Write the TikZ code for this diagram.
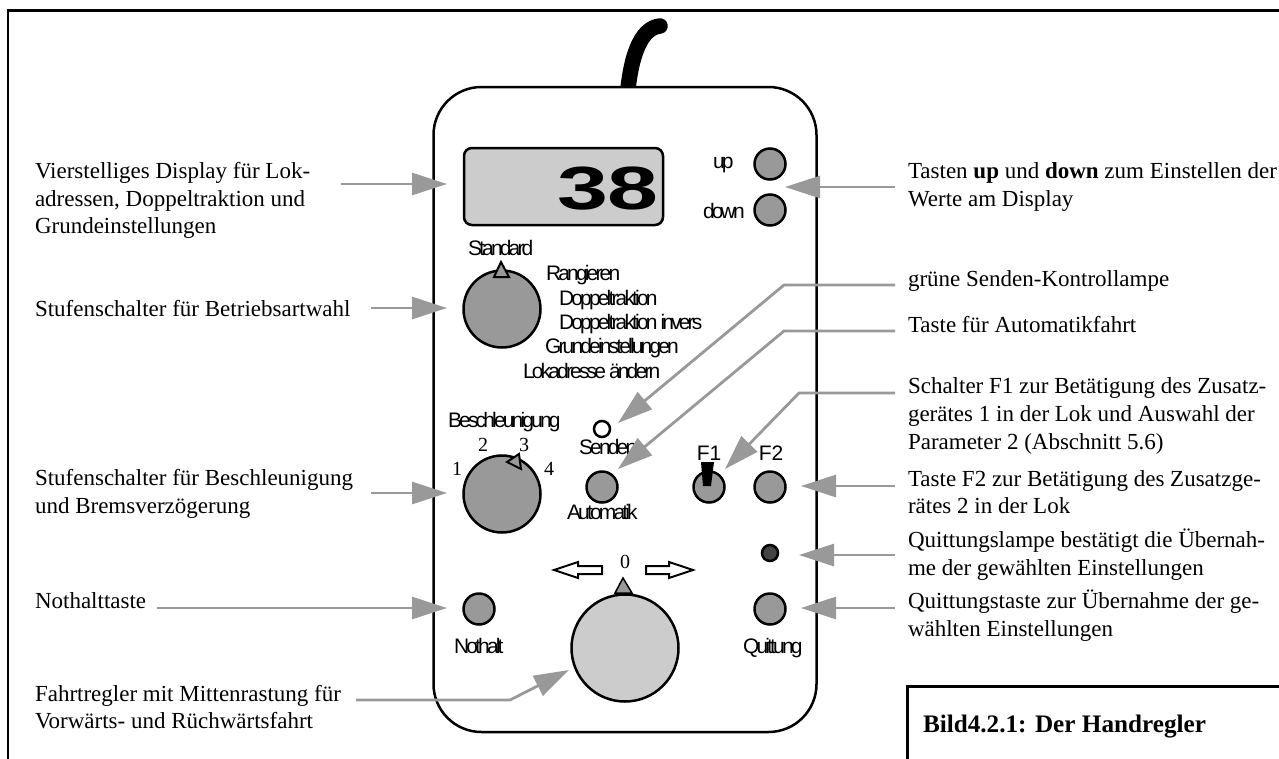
\documentclass[tikz,border=0pt]{standalone}
\usepackage{fontspec}
\setmainfont{Liberation Serif}
\newfontfamily\squeezed[LetterSpace=-13.5]{Liberation Sans}
\newfontfamily\plainsans{Liberation Sans}
\usetikzlibrary{arrows.meta}
\definecolor{knobgray}{HTML}{999999}
\definecolor{panelgray}{HTML}{CCCCCC}
\definecolor{lampdark}{HTML}{444444}
\tikzset{
  desc/.style={anchor=base west,inner sep=0pt,outer sep=0pt,font=\fontsize{23}{23}\selectfont},
  panel/.style={anchor=base west,inner sep=0pt,outer sep=0pt,font=\squeezed\fontsize{21}{21}\selectfont},
  panelc/.style={anchor=base,inner sep=0pt,outer sep=0pt,font=\plainsans\fontsize{21}{21}\selectfont},
  num/.style={anchor=base,inner sep=0pt,outer sep=0pt,font=\fontsize{20}{20}\selectfont},
  pointer/.style={draw=black,fill=knobgray,line width=2pt,line join=miter},
  btn/.style={circle,draw=black,fill=knobgray,line width=2.5pt,inner sep=0pt,outer sep=0pt,minimum size=31pt},
  knob/.style={circle,draw=black,fill=knobgray,line width=2.5pt,inner sep=0pt,outer sep=0pt,minimum size=77pt},
  callout/.style={draw=knobgray,line width=2.8pt,-{Triangle[length=35pt,width=22pt,fill=knobgray]}},
  hollow/.style={draw=black,fill=white,line width=2pt},
}
\begin{document}
\begin{tikzpicture}[x=1pt,y=-1pt]
\useasboundingbox (0,0) rectangle (1279,758);
\begin{scope}
\clip (0,0) rectangle (1279,758);
% outer frame (open at right and bottom)
\draw[line width=2.6pt] (8,770) -- (8,10.5) -- (1290,10.5);
% cable
\draw[line width=15.5pt,line cap=round] (627,100) .. controls (630,58) and (640,28) .. (660,26);
% handset body
\draw[line width=2.5pt,fill=white,rounded corners=48pt] (433.5,87) rectangle (816.5,732);
% caption box
\draw[line width=3pt,fill=white] (907,770) -- (907,686) -- (1290,686) -- (1290,770);
\end{scope}
\node[desc,font=\bfseries\fontsize{25.2}{25.2}\selectfont] (caption) at (923,732) {Bild4.2.1: Der Handregler};

% display
\node[draw=black,fill=panelgray,line width=2.5pt,rounded corners=8pt,minimum width=199pt,minimum height=77pt,inner sep=0pt,outer sep=0pt] (display) at (563.5,186.5) {};
\node[anchor=base east,inner sep=0pt,font=\plainsans\bfseries\fontsize{61}{61}\selectfont] (digits) at (659,209) {\scalebox{1.5}[1]{38}};

% buttons
\node[btn] (up) at (770,164) {};
\node[btn] (down) at (770,210) {};
\node[btn] (auto) at (602,487) {};
\node[btn] (fone) at (709,487) {};
\node[btn] (ftwo) at (770,487) {};
\node[btn] (nothalt) at (479,609) {};
\node[btn] (quitt) at (770,609) {};
\node[circle,draw=black,fill=white,line width=2.5pt,inner sep=0pt,outer sep=0pt,minimum size=16pt] (senden) at (602,429) {};
\node[circle,draw=black,fill=lampdark,line width=2.5pt,inner sep=0pt,outer sep=0pt,minimum size=16pt] (qlamp) at (770,553) {};

% knobs and pointers
\node[knob] (modeknob) at (502,309) {};
\draw[pointer] (501,262) -- (509,277) -- (494,277) -- cycle;
\node[knob] (accelknob) at (502,494) {};
\draw[pointer] (519,454) -- (521,469) -- (507,462) -- cycle;
\draw[pointer,draw=black,line width=1.5pt] (623,578) -- (632,593) -- (615,593) -- cycle;
\node[knob,fill=panelgray,minimum size=107pt] (drive) at (625,648) {};

% direction arrows
\draw[hollow] (554,570) -- (578,562) -- (578,566) -- (602,566) -- (602,574) -- (578,574) -- (578,578) -- cycle;
\draw[hollow] (646,566) -- (669,566) -- (669,562) -- (693,570) -- (669,578) -- (669,574) -- (646,574) -- cycle;

% toggle
\fill[black] (701,462) -- (714,462) -- (711,486) -- (703,486) -- cycle;

% panel labels
\node[panel] (lup) at (713,168) {up};
\node[panel] (ldown) at (703,218) {down};
\node[panel] (lstd) at (468,255) {Standard};
\node[panel] (lrang) at (546,280) {Rangieren};
\node[panel] (ldt) at (559,305) {Doppeltraktion};
\node[panel] (ldti) at (559,329) {Doppeltraktion invers};
\node[panel] (lgrund) at (545,353) {Grundeinstellungen};
\node[panel] (llok) at (523,378) {Lokadresse ändern};
\node[panel] (lbes) at (448,427) {Beschleunigung};
\node[panel] (lsend) at (579,454) {Senden};
\node[panel] (lauto) at (567,519) {Automatik};
\node[panel] (lnot) at (454,653) {Nothalt};
\node[panel] (lquit) at (743,653) {Quittung};
\node[panelc] (lfone) at (709,460) {F1};
\node[panelc] (lftwo) at (771,460) {F2};
\node[num] (n1) at (457,475) {1};
\node[num] (n2) at (483,451) {2};
\node[num] (n3) at (524,451) {3};
\node[num] (n4) at (549,475) {4};
\node[num] (n0) at (625,568) {0};

% left descriptions
\node[desc] (d1a) at (35,178) {Vierstelliges Display für Lok-};
\node[desc] (d1b) at (35,206) {adressen, Doppeltraktion und};
\node[desc] (d1c) at (35,233) {Grundeinstellungen};
\node[desc] (d2) at (35,316) {Stufenschalter für Betriebsartwahl};
\node[desc] (d3a) at (35,485) {Stufenschalter für Beschleunigung};
\node[desc] (d3b) at (35,513) {und Bremsverzögerung};
\node[desc] (d4) at (35,608) {Nothalttaste};
\node[desc] (d5a) at (35,701) {Fahrtregler mit Mittenrastung für};
\node[desc] (d5b) at (35,728) {Vorwärts- und Rüchwärtsfahrt};

% right descriptions
\node[desc] (r1a) at (908,178) {Tasten \textbf{up} und \textbf{down} zum Einstellen der};
\node[desc] (r1b) at (908,206) {Werte am Display};
\node[desc] (r2) at (908,286) {grüne Senden-Kontrollampe};
\node[desc] (r3) at (908,332) {Taste für Automatikfahrt};
\node[desc] (r4a) at (908,393) {Schalter F1 zur Betätigung des Zusatz-};
\node[desc] (r4b) at (908,421) {gerätes 1 in der Lok und Auswahl der};
\node[desc] (r4c) at (908,449) {Parameter 2 (Abschnitt 5.6)};
\node[desc] (r5a) at (908,486) {Taste F2 zur Betätigung des Zusatzge-};
\node[desc] (r5b) at (908,513) {rätes 2 in der Lok};
\node[desc] (r6a) at (908,547) {Quittungslampe bestätigt die Übernah-};
\node[desc] (r6b) at (908,575) {me der gewählten Einstellungen};
\node[desc] (r7a) at (908,608) {Quittungstaste zur Übernahme der ge-};
\node[desc] (r7b) at (908,636) {wählten Einstellungen};

% connector ends
\coordinate (c1s) at (341,184); \coordinate (c1t) at (447,184);
\coordinate (c2s) at (371,308); \coordinate (c2t) at (447,308);
\coordinate (c3s) at (371,493); \coordinate (c3t) at (447,493);
\coordinate (c4s) at (157,608); \coordinate (c4t) at (447,608);
\coordinate (c5s) at (356,700); \coordinate (c5m) at (510,700); \coordinate (c5t) at (569,670);
\coordinate (e1s) at (895,187); \coordinate (e1t) at (785,187);
\coordinate (e2s) at (895,285); \coordinate (e2m) at (784,285); \coordinate (e2t) at (618,423);
\coordinate (e3s) at (895,331); \coordinate (e3m) at (784,331); \coordinate (e3t) at (618,469);
\coordinate (e4s) at (895,393); \coordinate (e4m) at (799,393); \coordinate (e4t) at (725,469);
\coordinate (e5s) at (895,486); \coordinate (e5t) at (801,486);
\coordinate (e6s) at (895,555); \coordinate (e6t) at (799,555);
\coordinate (e7s) at (895,608); \coordinate (e7t) at (801,608);

% connectors
\draw[callout] (c1s) -- (c1t);
\draw[callout] (c2s) -- (c2t);
\draw[callout] (c3s) -- (c3t);
\draw[callout] (c4s) -- (c4t);
\draw[callout] (c5s) -- (c5m) -- (c5t);
\draw[callout] (e1s) -- (e1t);
\draw[callout] (e2s) -- (e2m) -- (e2t);
\draw[callout] (e3s) -- (e3m) -- (e3t);
\draw[callout] (e4s) -- (e4m) -- (e4t);
\draw[callout] (e5s) -- (e5t);
\draw[callout] (e6s) -- (e6t);
\draw[callout] (e7s) -- (e7t);
\end{tikzpicture}
\end{document}
